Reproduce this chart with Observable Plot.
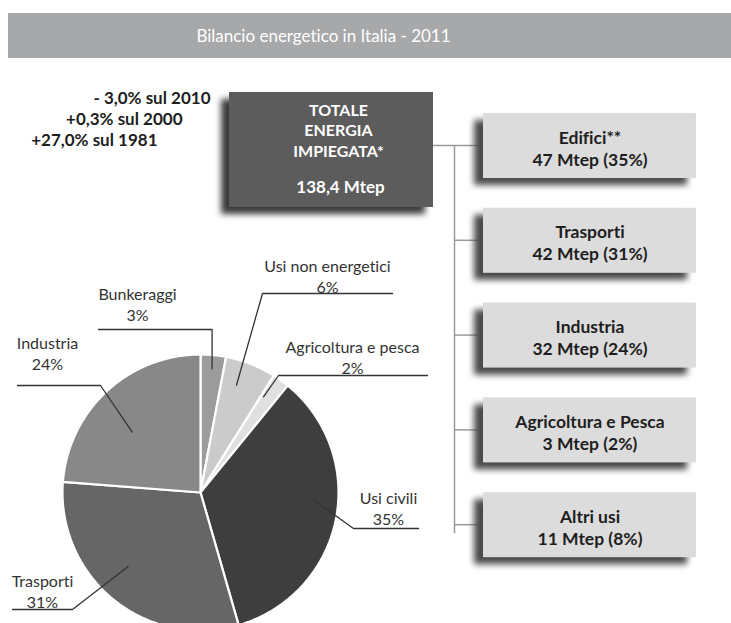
<!DOCTYPE html>
<html><head><meta charset="utf-8">
<script src="https://cdn.jsdelivr.net/npm/d3@7"></script>
<script src="https://cdn.jsdelivr.net/npm/@observablehq/plot@0.6"></script>
<style>
body{margin:0;background:#fff} svg{display:block}
svg text{font-variant-ligatures:none;font-feature-settings:"liga" 0}
g[aria-label="title"] text{letter-spacing:-0.9px}
</style>
</head><body><div id="chart"></div>
<script>
// ---- data ----
const title = "Bilancio energetico in Italia - 2011";
const pieLabels = ["Bunkeraggi", "Usi non energetici", "Agricoltura e pesca", "Usi civili", "Trasporti", "Industria"];
const pieValues = [3, 6, 2, 35, 31, 24];
const sectorNames = ["Edifici**", "Trasporti", "Industria", "Agricoltura e Pesca", "Altri usi"];
const sectorMtep = [47, 42, 32, 3, 11];
const sectorPct = [35, 31, 24, 2, 8];
const totalLines = ["TOTALE", "ENERGIA", "IMPIEGATA*"];
const totalMtep = 138.4;
const changePct = [-3.0, 0.3, 27.0];
const changeYear = [2010, 2000, 1981];

// ---- layout ----
const W = 731, H = 623;
const FONT = "Lato,'Open Sans',sans-serif";
const cx = 200, cy = 492, R = 138;
const itaNum = v => v.toFixed(1).replace(".", ",");

// pie slices
const arcs = d3.pie().sort(null).startAngle(0).endAngle(2 * Math.PI)(pieValues);
const slicePts = [];
arcs.forEach((a, i) => {
  slicePts.push({name: pieLabels[i], x: cx, y: cy});
  const n = Math.max(4, Math.ceil((a.endAngle - a.startAngle) / 0.01));
  for (let k = 0; k <= n; k++) {
    const t = a.startAngle + (a.endAngle - a.startAngle) * k / n;
    slicePts.push({name: pieLabels[i], x: cx + R * Math.sin(t), y: cy - R * Math.cos(t)});
  }
});

// label placement (layout): inner radius fraction, angle offset, elbow, end of leader, label centre
const labelLayout = {
  "Bunkeraggi":          {r: 0.90, da: 0,     elbow: null,       end: [98, 329],  lab: [137, 303]},
  "Usi non energetici":  {r: 0.82, da: -0.05, elbow: [262, 293], end: [392, 293], lab: [327, 275]},
  "Agricoltura e pesca": {r: 0.83, da: -0.04, elbow: [278, 375], end: [427, 375], lab: [352, 356]},
  "Usi civili":          {r: 0.83, da: -0.13, elbow: [353, 528], end: [418, 528], lab: [388, 507]},
  "Trasporti":           {r: 0.75, da: 0.09,  elbow: [72, 609],  end: [12, 609],  lab: [42, 590]},
  "Industria":           {r: 0.66, da: -0.1,  elbow: [100, 385], end: [17, 385],  lab: [47, 352]}
};
const leaderPts = [];
const pieText = [];
arcs.forEach((a, i) => {
  const L = labelLayout[pieLabels[i]];
  const m = (a.startAngle + a.endAngle) / 2 + L.da;
  const ix = cx + R * L.r * Math.sin(m), iy = cy - R * L.r * Math.cos(m);
  const elbow = L.elbow || [ix, L.end[1]];
  leaderPts.push({name: pieLabels[i], x: ix, y: iy});
  leaderPts.push({name: pieLabels[i], x: elbow[0], y: elbow[1]});
  leaderPts.push({name: pieLabels[i], x: L.end[0], y: L.end[1]});
  pieText.push({x: L.lab[0], y: L.lab[1], text: `${pieLabels[i]}\n${pieValues[i]}%`});
});

// right boxes
const boxTop0 = 113, boxStep = 94.8, boxH = 65, bx1 = 483, bx2 = 696, trunkX = 454;
const boxes = sectorNames.map((n, i) => ({
  top: boxTop0 + i * boxStep,
  text: `${n}\n${sectorMtep[i]} Mtep (${sectorPct[i]}%)`
}));

// change texts
const changes = changePct.map((v, i) => ({
  text: `${v < 0 ? "- " : "+"}${itaNum(Math.abs(v))}% sul ${changeYear[i]}`,
  x: [210, 182, 157][i], y: 98 + i * 21
}));

const totalBox = {x1: 229, x2: 433, y1: 92, y2: 207};

const chart = Plot.plot({
  width: W, height: H,
  margin: 0,
  x: {domain: [0, W], range: [0, W], axis: null},
  y: {domain: [0, H], range: [0, H], axis: null},
  color: {domain: pieLabels, range: ["#9c9c9c", "#cbcbcb", "#e0e0e0", "#3e3e3e", "#666666", "#888888"]},
  style: {fontFamily: FONT, background: "white"},
  marks: [
    // title bar
    Plot.rect([0], {x1: 8, x2: W, y1: 13, y2: 58, fill: "#a7a8aa"}),
    Plot.text([title], {x: 323, y: 36, text: d => d, fill: "white", fontSize: 17, ariaLabel: "title"}),
    // change annotations
    Plot.text(changes, {x: "x", y: "y", text: "text", textAnchor: "end", fontWeight: "bold", fontSize: 17, fill: "#1e1e1e"}),
    // total box
    Plot.rect([totalBox], {x1: d => d.x1 - 8, x2: d => d.x2 - 8, y1: d => d.y1 + 7, y2: d => d.y2 + 7, fill: "#3a3a3a", imageFilter: "blur(3px)"}),
    Plot.rect([totalBox], {x1: "x1", x2: "x2", y1: "y1", y2: "y2", fill: "#5c5c5c"}),
    Plot.text([totalLines.join("\n")], {x: 338, y: 129, text: d => d, fill: "white", fontWeight: "bold", fontSize: 16, lineHeight: 1.28}),
    Plot.text([totalMtep], {x: 340, y: 187, text: d => `${itaNum(d)} Mtep`, fill: "white", fontWeight: "bold", fontSize: 17}),
    // connectors
    Plot.ruleY([145], {x1: totalBox.x2, x2: trunkX, stroke: "#9a9a9a", strokeWidth: 1.5}),
    Plot.ruleX([trunkX], {y1: 145, y2: boxes[boxes.length - 1].top + 41, stroke: "#9a9a9a", strokeWidth: 1.5}),
    Plot.ruleY(boxes, {y: d => d.top + 32, x1: trunkX, x2: bx1, stroke: "#9a9a9a", strokeWidth: 1.5}),
    // right boxes
    Plot.rect(boxes, {x1: bx1 - 9, x2: bx2 - 9, y1: d => d.top + 7, y2: d => d.top + boxH + 7, fill: "#4a4a4a", imageFilter: "blur(3px)"}),
    Plot.rect(boxes, {x1: bx1, x2: bx2, y1: "top", y2: d => d.top + boxH, fill: "#dcdcdc"}),
    Plot.text(boxes, {x: (bx1 + bx2) / 2, y: d => d.top + 34, text: "text", fontWeight: "bold", fontSize: 17.5, lineHeight: 1.26, fill: "#1e1e1e"}),
    // pie
    Plot.line(slicePts, {x: "x", y: "y", z: "name", fill: "name", stroke: "white", strokeWidth: 2.2, curve: "linear-closed"}),
    // leaders
    Plot.line(leaderPts, {x: "x", y: "y", z: "name", stroke: "#333", strokeWidth: 1.3}),
    Plot.text(pieText, {x: "x", y: "y", text: "text", fontSize: 16, lineHeight: 1.3, fill: "#333"})
  ]
});
document.getElementById("chart").append(chart);
</script>
</body></html>
